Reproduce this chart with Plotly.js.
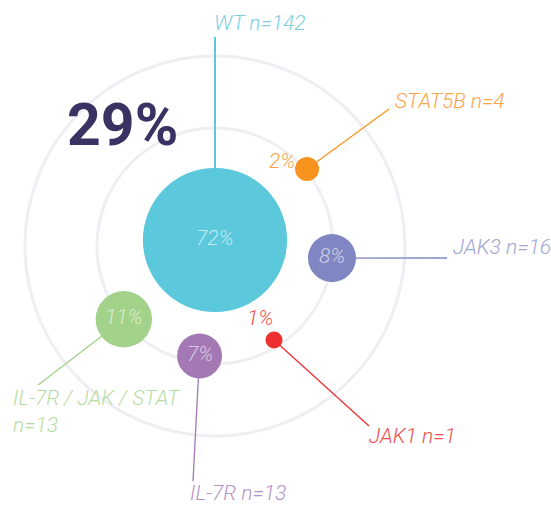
<!DOCTYPE html>
<html>
<head>
<meta charset="utf-8">
<script src="https://cdn.plot.ly/plotly-3.0.1.min.js"></script>
<style>html,body{margin:0;padding:0;background:#fff;}#chart{width:551px;height:505px;}</style>
</head>
<body>
<div id="chart"></div>
<script>
// ---- data ----
const groups = ["WT", "STAT5B", "JAK3", "JAK1", "IL-7R", "IL-7R / JAK / STAT"];
const counts = [142, 4, 16, 1, 13, 13];
const percents = [72, 2, 8, 1, 7, 11];
const headline = "29%";

// ---- layout config (design, not data) ----
const colors = ["#5bc8db", "#f7931e", "#7f86c1", "#ee3030", "#a378b4", "#a3d28a"];
const labelColors = ["#7dd0e2", "#f9a54b", "#a0a5d2", "#f04e4e", "#b593c6", "#b6dca2"];
// bubble placement: angle (deg) and distance from ring centre
const angles = [90, 39.9, -5.9, -57.9, -98, -141.2];
const dists = [6, 120, 117.6, 111, 111, 117];
const ringRadii = [118, 190];
const leaderEnds = [[0, 209], [174, 137], [232, -12], [154, -180], [-22, -235], [-177, -139]];
const labelPos = [[-3, 223], [178, 145], [236, -1], [152, -190], [-27, -247], [-204, -165]];
const sizeK = 17;

const bx = angles.map((a, i) => dists[i] * Math.cos(a * Math.PI / 180));
const by = angles.map((a, i) => dists[i] * Math.sin(a * Math.PI / 180));

const thinFont = (c, s) => ({family: "Roboto, 'Open Sans', sans-serif", size: s, color: c, style: "italic", weight: 300});

const shapes = [];
ringRadii.forEach(r => shapes.push({
  type: "circle", xref: "x", yref: "y", x0: -r, x1: r, y0: -r, y1: r,
  line: {color: "#eeeef4", width: 3}, layer: "below"
}));
groups.forEach((g, i) => shapes.push({
  type: "line", xref: "x", yref: "y", x0: bx[i], y0: by[i], x1: leaderEnds[i][0], y1: leaderEnds[i][1],
  line: {color: colors[i], width: i === 0 ? 2 : 1.3}, layer: "below"
}));

const annotations = [];
groups.forEach((g, i) => {
  const name = (i === 5) ? g + "<br>n=" + counts[i] : g + " n=" + counts[i];
  annotations.push({
    x: labelPos[i][0], y: labelPos[i][1], xref: "x", yref: "y", text: name,
    showarrow: false, xanchor: "left", yanchor: "middle", align: "left",
    font: thinFont(labelColors[i], 21)
  });
});
// percentage labels
groups.forEach((g, i) => {
  const small = percents[i] < 5;
  if (small) {
    annotations.push({
      x: i === 1 ? bx[i] - 10 : bx[i] - 14, y: i === 1 ? by[i] + 8 : by[i] + 22,
      xref: "x", yref: "y", text: percents[i] + "%", showarrow: false,
      xanchor: i === 1 ? "right" : "center", yanchor: "middle",
      font: thinFont(labelColors[i], 21)
    });
  } else {
    annotations.push({
      x: bx[i], y: by[i] + 2, xref: "x", yref: "y", text: percents[i] + "%", showarrow: false,
      xanchor: "center", yanchor: "middle",
      font: thinFont("rgba(255,255,255,0.62)", 21)
    });
  }
});
annotations.push({
  x: -93, y: 122, xref: "x", yref: "y", text: headline, showarrow: false,
  xanchor: "center", yanchor: "middle",
  font: {family: "Roboto, sans-serif", size: 59, color: "#3a3262", weight: 700}
});

const trace = {
  type: "scatter", mode: "markers", x: bx, y: by, text: groups, hoverinfo: "text",
  marker: {
    size: percents.map(p => sizeK * Math.sqrt(p)), sizemode: "diameter",
    color: colors, opacity: 1, line: {width: 0}
  }
};

const layout = {
  width: 551, height: 505, margin: {l: 0, r: 0, t: 0, b: 0},
  paper_bgcolor: "#fff", plot_bgcolor: "#fff", showlegend: false,
  xaxis: {range: [-215, 336], visible: false, fixedrange: true},
  yaxis: {range: [-259, 246], visible: false, fixedrange: true},
  shapes: shapes, annotations: annotations
};

Plotly.newPlot("chart", [trace], layout, {staticPlot: true, displayModeBar: false});
</script>
</body>
</html>
